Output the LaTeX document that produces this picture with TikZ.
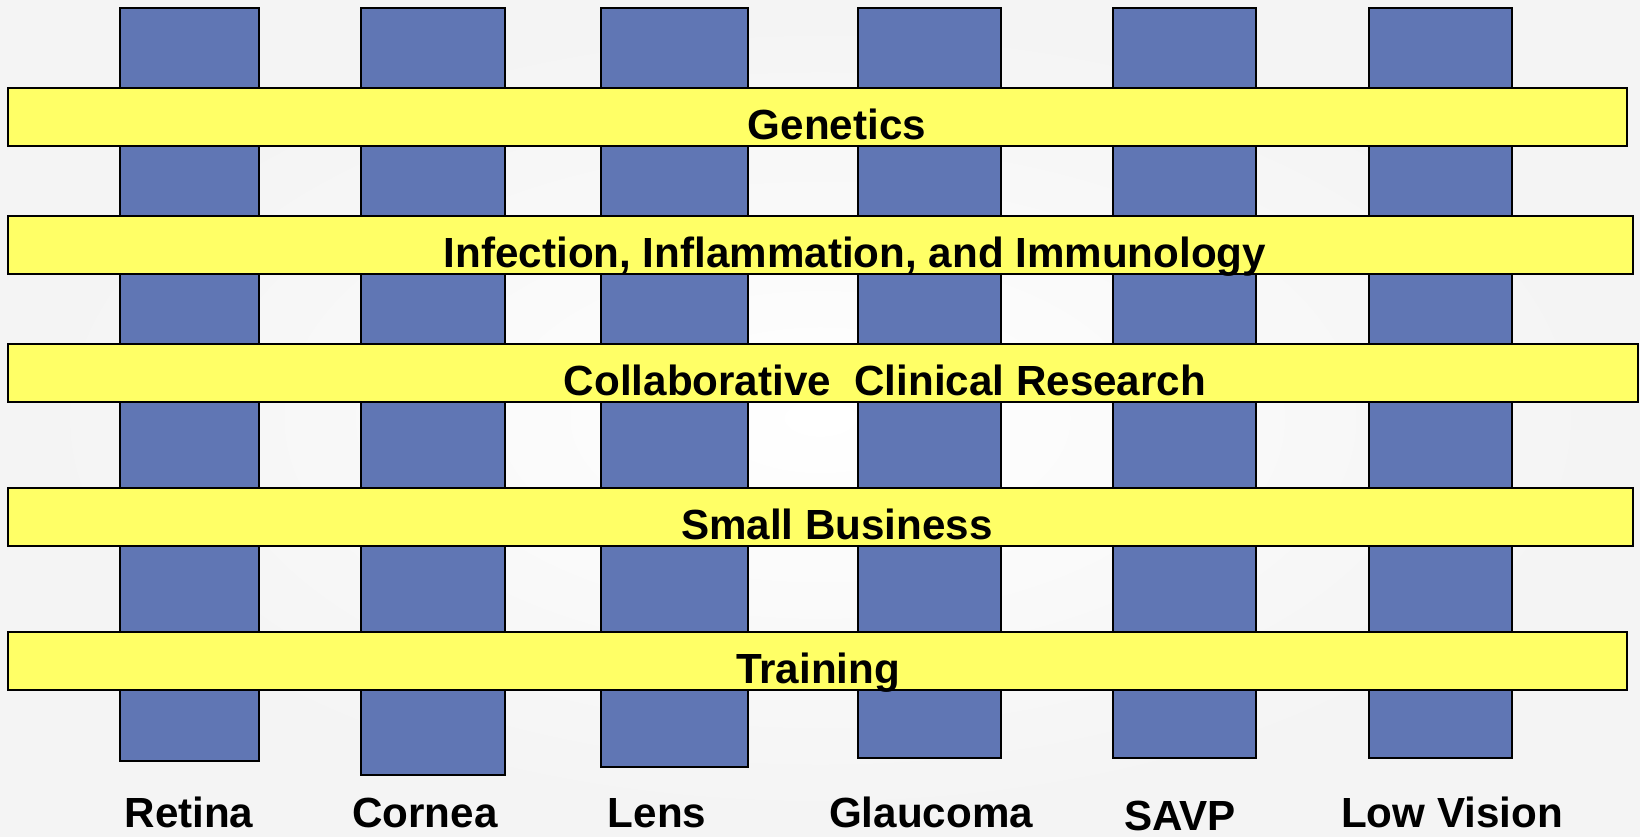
\documentclass[tikz,border=0pt]{standalone}
\usepackage{fontspec}
\setmainfont{Liberation Sans}
\usetikzlibrary{fit}

\definecolor{colblue}{RGB}{96,118,180}
\definecolor{baryellow}{RGB}{255,255,102}

\tikzset{
  col/.style={draw=black,line width=0.9pt,fill=colblue,inner sep=0pt},
  bar/.style={draw=black,line width=0.9pt,fill=baryellow,inner sep=0pt},
  bartext/.style={anchor=base,font=\fontsize{24}{28}\selectfont\bfseries,inner sep=0pt},
  collabel/.style={anchor=base,font=\fontsize{24}{28}\selectfont\bfseries,inner sep=0pt}
}

\begin{document}
\begin{tikzpicture}[x=0.02cm,y=-0.02cm]
  % fundal
  \shade[inner color=white,outer color=gray!9] (0,0) rectangle (1640,836);
  \useasboundingbox (0,0) rectangle (1640,836);

  % coloanele
  \node[col,fit={(120,8) (259,761)}] (retina) {};
  \node[col,fit={(361,8) (505,775)}] (cornea) {};
  \node[col,fit={(601,8) (748,767)}] (lens) {};
  \node[col,fit={(858,8) (1001,758)}] (glaucoma) {};
  \node[col,fit={(1113,8) (1256,758)}] (savp) {};
  \node[col,fit={(1369,8) (1512,758)}] (lowvision) {};

  % benzile
  \node[bar,fit={(8,88) (1627,146)}] (genetics) {};
  \node[bar,fit={(8,216) (1633,274)}] (infection) {};
  \node[bar,fit={(8,344) (1638,402)}] (clinical) {};
  \node[bar,fit={(8,488) (1633,546)}] (business) {};
  \node[bar,fit={(8,632) (1627,690)}] (training) {};

  % textele benzilor
  \node[bartext] (tgenetics) at (837,139) {Genetics};
  \node[bartext] (tinfection) at (855,267) {Infection, Inflammation, and Immunology};
  \node[bartext] (tclinical) at (885,395) {Collaborative\ \ Clinical Research};
  \node[bartext] (tbusiness) at (837,539) {Small Business};
  \node[bartext] (ttraining) at (818,683) {Training};

  % etichetele coloanelor
  \node[collabel] (lretina) at (189,827) {Retina};
  \node[collabel] (lcornea) at (425,827) {Cornea};
  \node[collabel] (llens) at (657,827) {Lens};
  \node[collabel] (lglaucoma) at (931,827) {Glaucoma};
  \node[collabel] (lsavp) at (1180,830) {SAVP};
  \node[collabel] (llowvision) at (1452,827) {Low Vision};
\end{tikzpicture}
\end{document}
